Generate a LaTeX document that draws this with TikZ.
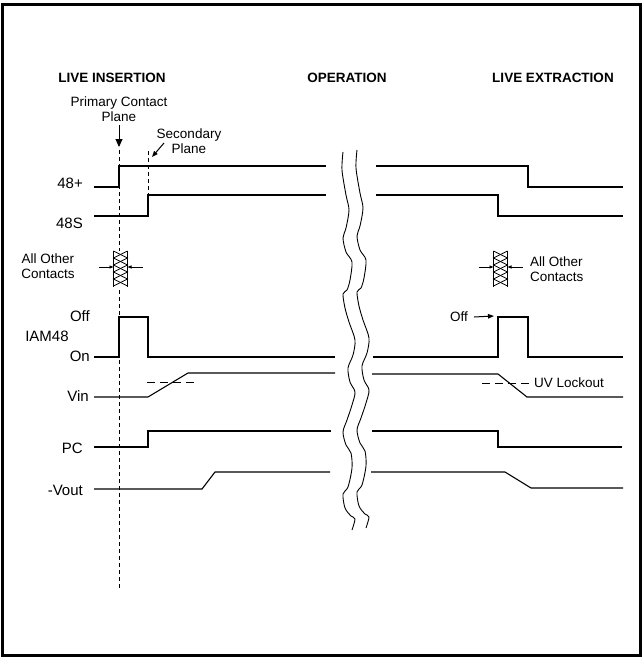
\documentclass[tikz,border=0pt]{standalone}
\usepackage{fontspec}
\setmainfont{Liberation Sans}
\usetikzlibrary{arrows.meta}
\begin{document}
\begin{tikzpicture}[x=1pt,y=-1pt,
  sig/.style={line width=1.1pt,line join=miter},
  lbl/.style={inner sep=0pt,font=\fontsize{13.5}{15.5}\selectfont},
  slbl/.style={inner sep=0pt,font=\fontsize{15}{17}\selectfont},
  ttl/.style={inner sep=0pt,font=\fontsize{13.5}{15.5}\selectfont\bfseries},
  plane/.style={line width=1pt,dash pattern=on 4pt off 3pt},
  lvl/.style={line width=1pt,dash pattern=on 8pt off 5pt},
  bigarrow/.style={line width=1pt,-{Triangle[length=8pt,width=7pt]}},
  smallarrow/.style={line width=0.8pt,-{Triangle[length=4pt,width=3pt]}},
  midarrow/.style={line width=1pt,-{Triangle[length=6pt,width=4.5pt]}},
  hatch/.style={line width=0.7pt},
  wave/.style={line width=0.9pt}]
\useasboundingbox (0,0) rectangle (642,657);
\draw[line width=3pt] (2.5,4.5) rectangle (640.5,655);

% titles
\node[ttl] (t1) at (112,78) {LIVE INSERTION};
\node[ttl] (t2) at (347,78) {OPERATION};
\node[ttl] (t3) at (553,78) {LIVE EXTRACTION};

% plane labels
\node[lbl,align=center] (pcp) at (119,109) {Primary Contact\\Plane};
\node[lbl,align=center] (scp) at (189,141) {Secondary\\Plane};
\coordinate (pa) at (119,125);
\coordinate (pb) at (119,147);
\draw[bigarrow] (pa) -- (pb);
\coordinate (sa) at (164,143);
\coordinate (sb) at (152,157);
\draw[midarrow] (sa) -- (sb);
\coordinate (p1) at (119,150);
\coordinate (p2) at (119,589);
\draw[plane] (p1) -- (p2);
\coordinate (s1) at (148,151);
\coordinate (s2) at (148,216);
\draw[plane] (s1) -- (s2);

% signal labels
\node[slbl,anchor=east] (l48p) at (83,183) {48+};
\node[slbl,anchor=east] (l48s) at (83,223) {48S};
\node[lbl,align=center] (aoc1) at (48,266) {All Other\\Contacts};
\node[slbl,anchor=east] (loff) at (90,316) {Off};
\node[slbl] (liam) at (47,336) {IAM48};
\node[slbl,anchor=east] (lon) at (90,356) {On};
\node[slbl,anchor=east] (lvin) at (89,396) {Vin};
\node[slbl,anchor=east] (lpc) at (83,448) {PC};
\node[slbl,anchor=east] (lvout) at (83,490) {-Vout};

% 48+
\draw[sig] (94,187) -- (119,187) -- (119,166) -- (326,166);
\draw[sig] (376,166) -- (528,166) -- (528,187) -- (623,187);
% 48S
\draw[sig] (94,216) -- (148,216) -- (148,195) -- (326,195);
\draw[sig] (376,195) -- (498,195) -- (498,216) -- (623,216);
% IAM48
\draw[sig] (94,357) -- (119,357) -- (119,317) -- (148,317) -- (148,357) -- (335,357);
\draw[sig] (373,357) -- (498,357) -- (498,317) -- (528,317) -- (528,357) -- (623,357);
% Vin
\draw[sig] (94,397) -- (148,397) -- (188,373) -- (335,373);
\draw[sig] (372,374) -- (498,374) -- (527,397) -- (623,397);
\draw[lvl] (147,382) -- (195,382);
\draw[lvl] (482,383) -- (529,383);
\node[lbl,anchor=west] (uvl) at (534,383) {UV Lockout};
% PC
\draw[sig] (94,447) -- (148,447) -- (148,431) -- (331,431);
\draw[sig] (372,431) -- (498,431) -- (498,447) -- (622,447);
% -Vout
\draw[sig] (94,489) -- (202,489) -- (215,472) -- (330,472);
\draw[sig] (371,472) -- (505,472) -- (531,488) -- (623,488);

% right Off label
\node[lbl,anchor=east] (roff) at (468,317) {Off};
\coordinate (ro2) at (494,316);
\draw[midarrow] (roff.east) ++(6,0) coordinate (ro1) -- (ro2);

% hatched boxes
\foreach \cx/\nm in {120.5/lb, 500.5/rb}{
  \begin{scope}[shift={(\cx,0)}]
    \fill[white] (-7,251) rectangle (7,287);
    \draw[hatch] (-7,251) -- (-7,287) (7,251) -- (7,287);
    \draw[hatch] (-7,251) -- (7,258) -- (-7,265) -- (7,272) -- (-7,279) -- (7,286);
    \draw[hatch] (7,251) -- (-7,258) -- (7,265) -- (-7,272) -- (7,279) -- (-7,286);
    \coordinate (\nm L) at (-7,267);
    \coordinate (\nm R) at (7,267);
    \coordinate (\nm LA) at (-22,267);
    \coordinate (\nm RA) at (22,267);
    \draw[smallarrow] (\nm LA) -- (\nm L);
    \draw[smallarrow] (\nm RA) -- (\nm R);
  \end{scope}
}
\node[lbl,align=left,anchor=west] (aoc2) at (530,269) {All Other\\Contacts};

% break waves
\begin{scope}
\draw[wave] plot[smooth,tension=0.5] coordinates {(343,152) (342,170) (346,195) (349,210) (346,228) (343,238) (346,252) (352,262) (350,280) (347,290) (343,294) (345,308) (349,322) (355,340) (353,355) (348,368) (350,382) (355,392) (352,405) (347,420) (343,432) (346,445) (351,453) (352,468) (348,487) (343,494) (345,508) (351,516) (355,519) (352,530)};
\end{scope}
\begin{scope}[shift={(14,-2)}]
\draw[wave] plot[smooth,tension=0.5] coordinates {(343,152) (342,170) (346,195) (349,210) (346,228) (343,238) (346,252) (352,262) (350,280) (347,290) (343,294) (345,308) (349,322) (355,340) (353,355) (348,368) (350,382) (355,392) (352,405) (347,420) (343,432) (346,445) (351,453) (352,468) (348,487) (343,494) (345,508) (351,516) (355,519) (352,530)};
\end{scope}
\end{tikzpicture}
\end{document}
